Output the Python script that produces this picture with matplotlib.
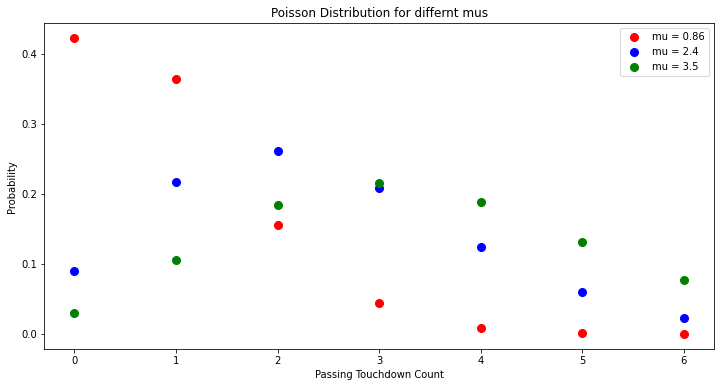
from matplotlib import pyplot as plt
import numpy as np

# passing touchdown counts and probabilities
counts = [0, 1, 2, 3, 4, 5, 6]
p_086 = [0.4232, 0.3640, 0.1565, 0.0449, 0.0097, 0.0017, 0.0002]
p_24 = [0.0907, 0.2177, 0.2613, 0.2090, 0.1254, 0.0602, 0.0241]
p_35 = [0.0302, 0.1057, 0.1850, 0.2158, 0.1888, 0.1322, 0.0771]
labels = ['mu = 0.86', 'mu = 2.4', 'mu = 3.5']
colors = ['red', 'blue', 'green']

fig, ax = plt.subplots(figsize=(10, 5.375), dpi=72)
for ys, lab, c in zip([p_086, p_24, p_35], labels, colors):
    ax.plot(counts, ys, 'o', color=c, markersize=8, label=lab)

ax.set_title('Poisson Distribution for differnt mus', size=12)
ax.set_xlabel('Passing Touchdown Count')
ax.set_ylabel('Probability')
ax.legend(loc=1)

plt.subplots_adjust(left=0.061, right=0.992, top=0.94, bottom=0.098)
plt.savefig('out.png', dpi=72)
